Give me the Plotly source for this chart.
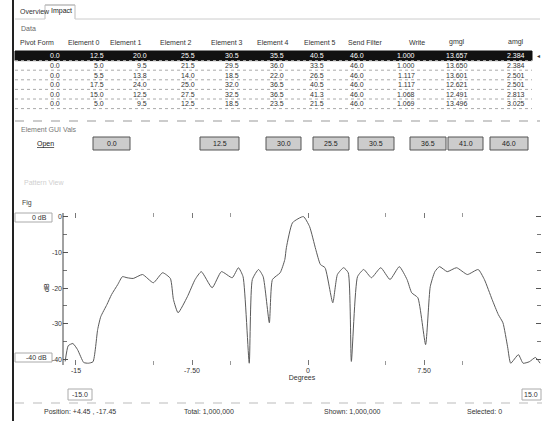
import plotly.graph_objects as go

W, H = 542, 421

# ---------------- data ----------------
headers = ["Pivot Form", "Element 0", "Element 1", "Element 2", "Element 3",
           "Element 4", "Element 5", "Send Filter", "Write", "gmgl", "amgl"]
pivot = ["0.0", "0.0", "0.0", "0.0", "0.0", "0.0"]
elem0 = ["12.5", "5.0", "5.5", "17.5", "15.0", "5.0"]
elem1 = ["20.0", "9.5", "13.8", "24.0", "12.5", "9.5"]
elem2 = ["25.5", "21.5", "14.0", "25.0", "27.5", "12.5"]
elem3 = ["30.5", "29.5", "18.5", "32.0", "32.5", "18.5"]
elem4 = ["35.5", "36.0", "22.0", "36.5", "36.5", "23.5"]
elem5 = ["40.5", "33.5", "26.5", "40.5", "41.3", "21.5"]
send_filter = ["46.0", "46.0", "46.0", "46.0", "46.0", "46.0"]
write = ["1.000", "1.000", "1.117", "1.117", "1.068", "1.069"]
gmgl = ["13.657", "13.650", "13.601", "12.621", "12.491", "13.496"]
amgl = ["2.384", "2.384", "2.501", "2.501", "2.813", "3.025"]

gui_labels = ["0.0", "12.5", "30.0", "25.5", "30.5", "36.5", "41.0", "46.0"]

degrees = [-15.7, -15.5, -15.2, -14.9, -14.5, -14.2, -13.9, -13.6, -13.4, -13.0,
           -12.7, -12.3, -12.0, -11.7, -11.3, -10.7, -10.0, -9.4, -8.9, -8.7,
           -8.4, -7.8, -7.3, -6.9, -6.2, -5.6, -4.9, -4.5, -4.2, -3.8,
           -3.6, -3.2, -2.9, -2.5, -2.3, -1.8, -1.5, -1.4, -1.0, -0.3,
           0.1, 0.5, 0.8, 1.1, 1.6, 1.9, 2.3, 2.6, 2.8, 3.2,
           3.6, 4.1, 4.7, 5.3, 5.9, 6.4, 6.7, 7.1, 7.6, 7.9,
           8.2, 8.5, 9.0, 9.6, 10.3, 11.0, 11.4, 11.9, 12.3, 12.6,
           12.9, 13.1, 13.6, 13.9, 14.3, 14.7, 15.0]
gain_db = [-40.5, -36.1, -35.5, -37.2, -40.8, -41.0, -40.6, -31.6, -28.0, -24.6,
           -21.8, -19.0, -16.8, -17.1, -17.3, -16.2, -18.5, -15.7, -17.3, -23.2,
           -26.9, -22.4, -17.6, -15.4, -19.9, -15.4, -17.1, -14.3, -16.8, -41.0,
           -17.6, -14.8, -16.8, -29.7, -17.6, -15.7, -12.0, -8.7, -1.7, 0.0,
           -2.8, -9.2, -13.4, -14.3, -24.1, -16.2, -14.3, -15.7, -40.5, -16.8,
           -14.8, -17.1, -14.3, -17.6, -14.0, -17.6, -21.3, -22.7, -35.8, -19.6,
           -15.4, -14.0, -15.4, -14.3, -16.2, -14.8, -17.6, -23.2, -27.4, -29.7,
           -36.4, -41.0, -38.6, -41.0, -40.6, -39.4, -41.0]

x_tick_vals = [-15, -7.5, 0, 7.5, 15]
x_tick_text = ["-15", "-7.50", "0", "7.50", "15"]
y_tick_vals = [0, -10, -20, -30, -40]
y_tick_text = ["0", "-10", "-20", "-30", "-40"]

# ---------------- layout helpers ----------------
def X(px):
    return px / W

def Y(py):
    return 1 - py / H

FONT = "Liberation Sans"
TXT = "#333333"

shapes = []
annotations = []

def text(px, py, s, size=7, color=TXT, xanchor="left", **kw):
    annotations.append(dict(x=X(px), y=Y(py), xref="paper", yref="paper", text=s,
                            showarrow=False, xanchor=xanchor, yanchor="middle",
                            font=dict(family=FONT, size=size, color=color), **kw))

def hline(x0, x1, py, color="#bbbbbb", width=1, dash="solid"):
    shapes.append(dict(type="line", xref="paper", yref="paper", x0=X(x0), x1=X(x1),
                       y0=Y(py), y1=Y(py), line=dict(color=color, width=width, dash=dash)))

def vline(px, y0, y1, color="#333", width=1, dash="solid"):
    shapes.append(dict(type="line", xref="paper", yref="paper", x0=X(px), x1=X(px),
                       y0=Y(y0), y1=Y(y1), line=dict(color=color, width=width, dash=dash)))

def box(x0, y0, x1, y1, fill="white", line="#777", width=1):
    shapes.append(dict(type="rect", xref="paper", yref="paper", x0=X(x0), x1=X(x1),
                       y0=Y(y1), y1=Y(y0), fillcolor=fill, line=dict(color=line, width=width),
                       layer="below"))

fig = go.Figure()

# ---------------- pattern plot ----------------
fig.add_trace(go.Scatter(
    x=degrees, y=gain_db, mode="lines",
    line=dict(color="#5a5a5a", width=1, shape="spline", smoothing=0.5),
    showlegend=False, hoverinfo="skip"))

fig.update_layout(
    width=W, height=H, margin=dict(l=0, r=0, t=0, b=0),
    paper_bgcolor="white", plot_bgcolor="white", showlegend=False,
    font=dict(family=FONT, size=7, color=TXT),
    xaxis=dict(domain=[X(63), X(541)], range=[-15.84, 15.06],
               showgrid=False, zeroline=False, showline=False,
               tickvals=x_tick_vals, ticktext=x_tick_text,
               ticks="inside", ticklen=5, tickcolor="#777", mirror="ticks",
               minor=dict(tickvals=[-10, -5, 5, 10], ticks="inside", ticklen=4,
                          tickcolor="#999"),
               tickfont=dict(size=7, color=TXT),
               title=dict(text="Degrees", font=dict(size=7, color=TXT), standoff=2)),
    yaxis=dict(domain=[Y(365), Y(213)], range=[-41.5, 1],
               showgrid=False, zeroline=False, showline=False,
               tickvals=y_tick_vals, ticktext=y_tick_text,
               ticks="inside", ticklen=5, tickcolor="#555", mirror="ticks",
               minor=dict(dtick=5, ticks="inside", ticklen=4, tickcolor="#777"),
               tickfont=dict(size=7, color=TXT)),
)

# ---------------- window frame, tabs ----------------
vline(13, 0, H, color="#222", width=2)
hline(45, 75, 5, color="#999")
vline(45, 5, 19, color="#bbb")
vline(75, 5, 19, color="#bbb")
hline(15, 45, 19, color="#ccc")
hline(75, 540, 19, color="#ccc")
text(18, 12, "Overview", size=7)
text(49, 11, "Impact", size=7, color="#222")
text(19, 28, "Data", size=7, color="#666")

# ---------------- table (text annotations) ----------------
cols = [pivot, elem0, elem1, elem2, elem3, elem4, elem5, send_filter, write, gmgl, amgl]
head_x = [37, 84, 126, 176, 227, 273, 320, 365, 417, 457, 516]
val_right = [62, 106, 149, 197, 241, 286, 326, 366, 417, 470, 527]
head_y = 42
row_top = 51
row_h = 9.6
nrows = len(pivot)

box(15, row_top, 532, row_top + row_h, fill="#111111", line="#111111")
for c, (hx, vx) in enumerate(zip(head_x, val_right)):
    text(hx, head_y, headers[c], size=7, xanchor="center")
    for r in range(nrows):
        col = "white" if r == 0 else TXT
        text(vx, row_top + (r + 0.5) * row_h, cols[c][r], size=7, color=col, xanchor="right")
for r in range(1, nrows + 1):
    hline(15, 532, row_top + r * row_h, color="#aaaaaa", dash="dot")
text(535, row_top + 0.5 * row_h, "◂", size=6, color="#333")
hline(15, 540, 121, color="#999", dash="dash")

# ---------------- element GUI values ----------------
text(19, 129, "Element GUI Vals", size=7, color="#777")
text(45, 144, "<u>Open</u>", size=7, xanchor="center", color="#222")
gui_boxes = [(93, 130), (200, 239), (266, 301), (313, 349), (358, 394),
             (410, 446), (448, 483), (490, 528)]
for (bx0, bx1), lab in zip(gui_boxes, gui_labels):
    box(bx0, 137, bx1, 150, fill="#cccccc", line="#555")
    text((bx0 + bx1) / 2, 143.5, lab, size=7, xanchor="center", color="#222")

text(22, 182, "Pattern View", size=7, color="#cfcfcf")
text(20, 203, "Fig", size=7, color="#444")

# ---------------- left range boxes ----------------
box(15, 213, 52, 222, line="#aaa")
text(49, 217.5, "0 dB", size=7, xanchor="right")
box(15, 353, 52, 362, line="#aaa")
text(49, 357.5, "-40 dB", size=7, xanchor="right")
text(46, 288, "dB", size=7, color="#222", xanchor="center", textangle=-90)
vline(63, 213, 365, color="#444", width=1)

# ---------------- bottom range boxes + status bar ----------------
box(68, 389, 92, 400, line="#aaa")
text(90, 394.5, "-15.0", size=7, xanchor="right")
box(522, 389, 541, 400, line="#aaa")
text(540, 394.5, "15.0", size=7, xanchor="right")
hline(15, 542, 403, color="#bbb", dash="dash")
text(42, 411, "Position: +4.45 , -17.45", size=7)
text(182, 411, "Total: 1,000,000", size=7)
text(322, 411, "Shown: 1,000,000", size=7)
text(465, 411, "Selected: 0", size=7)

fig.update_layout(shapes=shapes, annotations=annotations)
fig.write_html("out.html", config={"displayModeBar": False},
               post_script="document.body.style.margin='0';document.body.style.overflow='hidden';")
